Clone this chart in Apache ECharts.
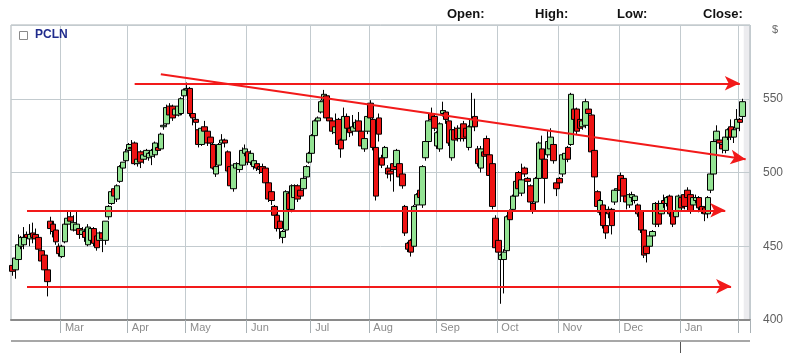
<!DOCTYPE html>
<html>
<head>
<meta charset="utf-8">
<script src="https://cdn.jsdelivr.net/npm/echarts@6/dist/echarts.min.js"></script>
<style>
html,body{margin:0;padding:0;background:#fff;}
#chart{width:787px;height:355px;}
</style>
</head>
<body>
<div id="chart"></div>
<script>
// ---- calendar (trading days) ----
const firstTradingDay = '2011-02-03';
const categoryCount = 254;
const lastLabelledMonth = '2012-01';
const holidays = ['2011-02-21','2011-04-22','2011-05-30','2011-07-04','2011-09-05','2011-11-24','2011-12-26','2012-01-02','2012-01-16'];
const monthNames = ['Jan','Feb','Mar','Apr','May','Jun','Jul','Aug','Sep','Oct','Nov','Dec'];

// ---- PCLN daily prices ----
const opens = [
437,434,441,450,451,458,455,459,458,456,
447,444,434,467,465,461,450,443,453,465,
470,461,461,462,458,460,451,454,462,457,
454,459,454,470,479,489,482,494,503,508,
515,517,520,506,514,509,511,510,511,512,
517,516,531,533,545,545,539,539,540,552,
556,557,540,536,529,519,531,528,524,519,
499,505,520,522,514,504,489,503,502,505,
513,514,507,504,506,504,504,503,493,487,
477,471,467,456,461,486,475,483,491,488,
489,497,507,513,525,535,541,549,552,537,
535,527,536,522,522,538,530,528,530,535,
528,516,528,547,536,517,537,510,510,503,
501,506,504,506,499,477,452,454,450,478,
488,478,510,521,540,538,518,516,540,541,
535,510,529,530,523,533,530,517,531,538,
516,503,514,523,512,506,469,454,441,441,
447,474,475,484,500,486,503,496,491,479,
480,496,516,509,512,516,519,493,496,499,
509,517,519,543,543,536,531,532,543,539,
515,487,473,478,464,475,475,480,488,498,
496,484,478,483,481,478,474,461,450,450,
457,465,479,472,481,479,484,474,470,474,
483,485,488,485,478,481,483,477,476,472,
488,499,522,522,519,515,524,531,524,530,
536,538];
const closes = [
433,442,451,456,456,456,458,456,455,448,
440,434,426,462,460,453,445,450,465,469,
467,466,465,458,461,456,463,462,452,449,
459,455,467,477,487,484,491,504,507,514,
519,516,506,509,507,512,515,513,515,520,
515,526,532,544,539,537,543,545,550,556,
557,540,537,534,519,530,528,520,520,503,
504,519,522,520,501,491,505,506,506,515,
516,507,513,508,503,502,500,493,482,481,
471,462,462,460,487,475,491,491,482,484,
496,504,513,525,535,537,548,553,537,535,
528,531,519,516,538,530,527,531,534,528,
518,523,538,537,517,484,526,505,517,499,
499,502,515,497,491,459,448,446,477,485,
483,504,521,535,536,530,527,533,542,536,
520,529,522,523,530,523,524,531,536,531,
506,516,511,512,498,477,449,446,444,446,
470,468,484,494,489,495,499,494,480,474,
496,520,509,496,521,524,508,489,493,512,
513,509,553,536,528,530,535,548,540,514,
497,477,481,464,459,472,464,488,489,488,
484,480,485,485,484,472,461,444,445,457,
460,479,465,479,479,483,472,465,474,484,
476,477,483,474,483,483,476,474,472,483,
499,521,528,520,516,524,529,524,529,536,
534,548];
const lows = [
430,428,440,448,448,451,450,452,451,446,
438,432,416,458,456,451,443,442,452,463,
464,460,459,455,456,453,450,452,450,447,
451,446,451,468,478,482,480,493,501,507,
514,512,505,504,503,506,509,508,505,510,
513,515,529,532,537,535,537,538,539,550,
554,538,532,528,517,518,525,518,516,502,
497,503,518,517,499,489,487,500,500,504,
511,505,505,502,501,499,498,491,480,478,
469,460,455,452,457,473,473,481,480,482,
487,495,506,512,524,533,540,547,535,533,
526,525,518,510,520,528,524,525,528,526,
516,514,526,535,515,481,521,503,508,496,
494,487,502,495,489,457,446,443,447,476,
479,476,508,520,534,528,516,514,538,533,
518,508,520,521,521,521,520,515,529,528,
504,500,509,507,496,475,447,443,411,418,
445,466,474,482,487,484,497,485,478,472,
478,494,507,479,510,514,506,484,490,497,
507,507,518,534,526,528,529,530,537,512,
487,475,471,462,455,469,458,478,486,480,
482,475,476,480,479,470,459,442,439,448,
455,463,463,470,476,477,470,463,468,472,
474,475,481,472,476,479,473,472,467,469,
486,497,520,517,513,513,522,522,520,528,
528,536];
const highs = [
439,443,458,457,463,460,465,466,462,457,
448,446,436,470,467,462,452,451,466,474,
474,471,474,464,463,462,465,463,463,459,
460,461,467,478,488,490,492,505,507,516,
520,522,521,511,515,513,516,514,516,521,
518,527,533,546,547,546,544,546,551,557,
561,558,542,538,530,531,535,530,526,520,
506,520,526,523,515,506,506,507,507,517,
519,516,515,510,508,506,506,504,494,489,
478,472,468,461,488,487,492,492,492,490,
497,505,514,526,536,538,549,556,553,539,
536,540,537,523,544,540,532,539,536,541,
530,524,547,549,537,518,540,512,518,505,
503,507,516,507,500,478,453,455,478,486,
489,505,522,536,544,539,528,534,548,542,
536,530,531,532,531,535,532,532,554,550,
518,518,515,525,514,508,471,456,445,448,
471,475,485,495,501,506,504,497,492,480,
497,521,525,510,528,530,520,494,497,513,
515,518,554,545,544,538,541,550,545,540,
516,488,482,479,465,477,476,489,491,500,
497,485,486,487,485,479,476,463,451,458,
461,480,481,480,485,484,485,476,476,485,
485,488,490,487,484,485,484,478,477,484,
500,522,532,525,520,525,530,536,530,543,
537,550];

// ---- drawn trend arrows: [start index, start price, end index, end price] ----
const trendTop = [42, 560.5, 250, 560.5];
const trendFalling = [51, 566.6, 252, 509];
const trendMiddle = [5, 474.4, 245, 474.4];
const trendBottom = [5, 422.8, 247, 422.8];

const yTicks = [400, 450, 500, 550];
const headerLabels = ['Open:', 'High:', 'Low:', 'Close:'];
const symbolName = 'PCLN';

// build categories
function buildDates() {
  const out = [];
  const d = new Date(firstTradingDay + 'T00:00:00Z');
  while (out.length < categoryCount) {
    const wd = d.getUTCDay();
    const s = d.toISOString().slice(0, 10);
    if (wd !== 0 && wd !== 6 && holidays.indexOf(s) < 0) out.push(s);
    d.setUTCDate(d.getUTCDate() + 1);
  }
  return out;
}
const dates = buildDates();
const monthStart = dates.map((s, i) => i > 0 && s.slice(0, 7) !== dates[i - 1].slice(0, 7));
const candles = opens.map((o, i) => [o, closes[i], lows[i], highs[i]]);

function trend(t) {
  return [{ coord: [dates[t[0]], t[1]] }, { coord: [dates[t[2]], t[3]] }];
}

const chart = echarts.init(document.getElementById('chart'), null, { renderer: 'canvas' });
const gridLeft = 11, gridRight = 37, gridTop = 25, gridBottom = 35;
const gridColor = '#c3cbcf';
const narrow = '"Liberation Sans Narrow", "Arial Narrow", "Liberation Sans", sans-serif';

chart.setOption({
  animation: false,
  backgroundColor: '#ffffff',
  grid: { left: gridLeft, right: gridRight, top: gridTop, bottom: gridBottom, show: true, borderColor: '#a9b1b5', borderWidth: 1, backgroundColor: 'transparent' },
  xAxis: {
    type: 'category',
    data: dates,
    boundaryGap: true,
    axisLine: { show: true, lineStyle: { color: '#8a8a8a', width: 2 } },
    axisTick: { show: true, interval: (i) => monthStart[i], length: 13, lineStyle: { color: '#a9b1b5' } },
    splitLine: { show: true, interval: (i) => monthStart[i], lineStyle: { color: gridColor, width: 1 } },
    axisLabel: {
      show: true,
      interval: (i) => monthStart[i] && dates[i].slice(0, 7) <= lastLabelledMonth,
      formatter: (v) => monthNames[parseInt(v.slice(5, 7), 10) - 1],
      align: 'left',
      padding: [0, 0, 0, 3],
      margin: 2,
      color: '#8c8c8c',
      fontSize: 11,
      fontFamily: narrow
    }
  },
  yAxis: {
    type: 'value',
    position: 'right',
    min: 400,
    max: 600,
    interval: 50,
    axisLine: { show: false },
    axisTick: { show: false },
    splitLine: { show: true, lineStyle: { color: gridColor, width: 1 } },
    axisLabel: {
      margin: 13,
      color: '#5f5f5f',
      fontSize: 12,
      fontFamily: narrow,
      formatter: (v) => (yTicks.indexOf(v) >= 0 ? String(v) : '')
    }
  },
  series: [{
    type: 'candlestick',
    data: candles,
    barWidth: 6,
    itemStyle: {
      color: '#93e393',
      color0: '#ee1313',
      borderColor: '#000000',
      borderColor0: '#000000',
      borderWidth: 1
    },
    emphasis: { disabled: true },
    markLine: {
      silent: true,
      symbol: ['none', 'arrow'],
      symbolSize: [11, 15],
      label: { show: false },
      emphasis: { disabled: true },
      lineStyle: { color: '#f21a1a', width: 2.2, type: 'solid' },
      data: [trend(trendTop), trend(trendFalling), trend(trendMiddle), trend(trendBottom)]
    }
  }]
});

// overlays placed via the axis scale
const lastX = chart.convertToPixel({ xAxisIndex: 0 }, dates[opens.length - 1]);
const janIndex = dates.findIndex((s) => s.slice(0, 7) === lastLabelledMonth);
const janX = chart.convertToPixel({ xAxisIndex: 0 }, dates[janIndex]);
const step = chart.convertToPixel({ xAxisIndex: 0 }, dates[1]) - chart.convertToPixel({ xAxisIndex: 0 }, dates[0]);
const plotRight = 787 - gridRight;
const plotBottom = 355 - gridBottom;
const headerX = [447, 535, 617, 703];

const graphics = [
  { type: 'rect', z: -1, silent: true, shape: { x: lastX + 1, y: gridTop, width: plotRight - lastX - 1, height: plotBottom - gridTop }, style: { fill: '#ececef' } },
  { type: 'rect', silent: true, shape: { x: 19.5, y: 31.5, width: 8, height: 8 }, style: { fill: '#ffffff', stroke: '#8a8a8a', lineWidth: 1 } },
  { type: 'text', silent: true, x: 35, y: 35, style: { text: symbolName, fill: '#1f2b8c', font: 'bold 12px ' + narrow, verticalAlign: 'middle' } },
  { type: 'text', silent: true, x: 772, y: 30, style: { text: '$', fill: '#666666', font: '11px ' + narrow, verticalAlign: 'middle' } },
  { type: 'line', silent: true, shape: { x1: gridLeft, y1: 341, x2: plotRight, y2: 341 }, style: { stroke: '#8a8a8a', lineWidth: 1.5 } },
  { type: 'line', silent: true, shape: { x1: Math.round(janX - step / 2) + 0.5, y1: 342, x2: Math.round(janX - step / 2) + 0.5, y2: 353 }, style: { stroke: '#555555', lineWidth: 1 } }
];
headerLabels.forEach((t, i) => {
  graphics.push({ type: 'text', silent: true, x: headerX[i], y: 14, style: { text: t, fill: '#111111', font: 'bold 13px ' + narrow, verticalAlign: 'middle' } });
});
chart.setOption({ graphic: graphics });
</script>
</body>
</html>
